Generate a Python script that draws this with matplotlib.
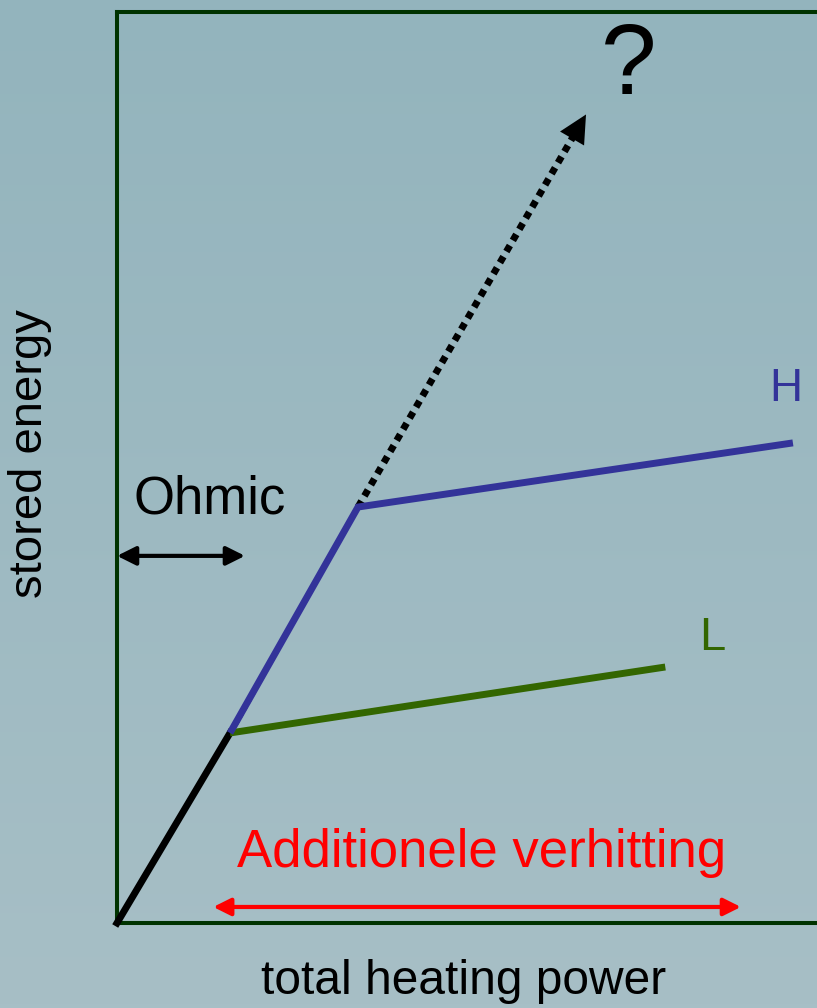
import numpy as np
import matplotlib
matplotlib.use("Agg")
import matplotlib.pyplot as plt

plt.rcParams['font.family'] = ['Liberation Sans', 'DejaVu Sans']

# Schematic confinement picture: stored energy versus total heating power
ohmic_x = [0.0, 1.585]
ohmic_y = [0.0, 2.086]

h_mode_x = [1.585, 3.38, 9.48]
h_mode_y = [2.086, 4.566, 5.27]

l_mode_x = [1.585, 7.69]
l_mode_y = [2.086, 2.81]

# extrapolation without confinement degradation
extrap_x = [3.38, 6.50]
extrap_y = [4.566, 8.77]
extrap_under_x = [1.62, 3.40]
extrap_under_y = [2.086, 4.566]

ohmic_range = (0.0, 1.795, 4.03)      # x from, x to, y
extra_range = (1.35, 8.75, 0.176)     # x from, x to, y

BLUE = '#333399'
GREEN = '#336600'
RED = '#ff0000'
FRAME = '#003300'

W, H = 817, 1008
fig = plt.figure(figsize=(W / 100, H / 100), dpi=100)

# soft vertical background gradient
bg = fig.add_axes([0, 0, 1, 1], zorder=-10)
top = np.array([147, 180, 189]) / 255
bot = np.array([167, 191, 198]) / 255
t = np.linspace(0, 1, 256)[:, None]
grad = (top[None, :] * (1 - t) + bot[None, :] * t)[:, None, :]
bg.imshow(grad, aspect='auto', extent=[0, 1, 0, 1], origin='upper')
bg.set_axis_off()

ax = fig.add_axes([117 / W, 85 / H, 713 / W, 911 / H])
ax.set_facecolor('none')
ax.set_xlim(0, 10)
ax.set_ylim(0, 10)
ax.set_xticks([])
ax.set_yticks([])
for s in ax.spines.values():
    s.set_color(FRAME)
    s.set_linewidth(2.9)

ax.plot(extrap_under_x, extrap_under_y, color='black', lw=1.2,
        linestyle=(0, (3, 2)), zorder=2, clip_on=False)
ax.plot(extrap_x, extrap_y, color='black', lw=5,
        linestyle=(0, (1, 0.85)), zorder=2, clip_on=False)
# arrow head at the end of the extrapolation
dx = extrap_x[1] - extrap_x[0]
dy = extrap_y[1] - extrap_y[0]
ax.annotate('', xy=(extrap_x[1] + 0.025 * dx, extrap_y[1] + 0.025 * dy),
            xytext=(extrap_x[1] - 0.03 * dx, extrap_y[1] - 0.03 * dy),
            arrowprops=dict(arrowstyle='-|>', color='black', lw=0,
                            mutation_scale=50, shrinkA=0, shrinkB=0),
            annotation_clip=False, zorder=3)

ax.plot(ohmic_x, ohmic_y, color='black', lw=5, solid_capstyle='projecting',
        zorder=3, clip_on=False)
ax.plot(l_mode_x, l_mode_y, color=GREEN, lw=5, zorder=3,
        solid_capstyle='butt', clip_on=False)
ax.plot(h_mode_x, h_mode_y, color=BLUE, lw=5, zorder=4,
        solid_capstyle='butt', solid_joinstyle='miter', clip_on=False)

# ohmic range arrow
ax.annotate('', xy=(ohmic_range[0], ohmic_range[2]),
            xytext=(ohmic_range[1], ohmic_range[2]),
            arrowprops=dict(arrowstyle='<|-|>', color='black', lw=3,
                            mutation_scale=28, shrinkA=0, shrinkB=0),
            annotation_clip=False)
# additional heating range arrow
ax.annotate('', xy=(extra_range[0], extra_range[2]),
            xytext=(extra_range[1], extra_range[2]),
            arrowprops=dict(arrowstyle='<|-|>', color=RED, lw=3,
                            mutation_scale=26, shrinkA=0, shrinkB=0),
            annotation_clip=False)


def px_text(x, y, s, **kw):
    fig.text(x / W, 1 - y / H, s, ha='center', va='center', **kw)


px_text(629, 68, '?', fontsize=72, color='black')
px_text(786, 389, 'H', fontsize=33, color=BLUE)
px_text(712, 638, 'L', fontsize=34, color=GREEN)
px_text(210, 500, 'Ohmic', fontsize=38, color='black')
px_text(482, 853, 'Additionele verhitting', fontsize=38, color=RED)
px_text(464, 982, 'total heating power', fontsize=34.5, color='black')
px_text(30, 454, 'stored energy', fontsize=34, color='black', rotation=90)

fig.savefig('out.png', dpi=100)
